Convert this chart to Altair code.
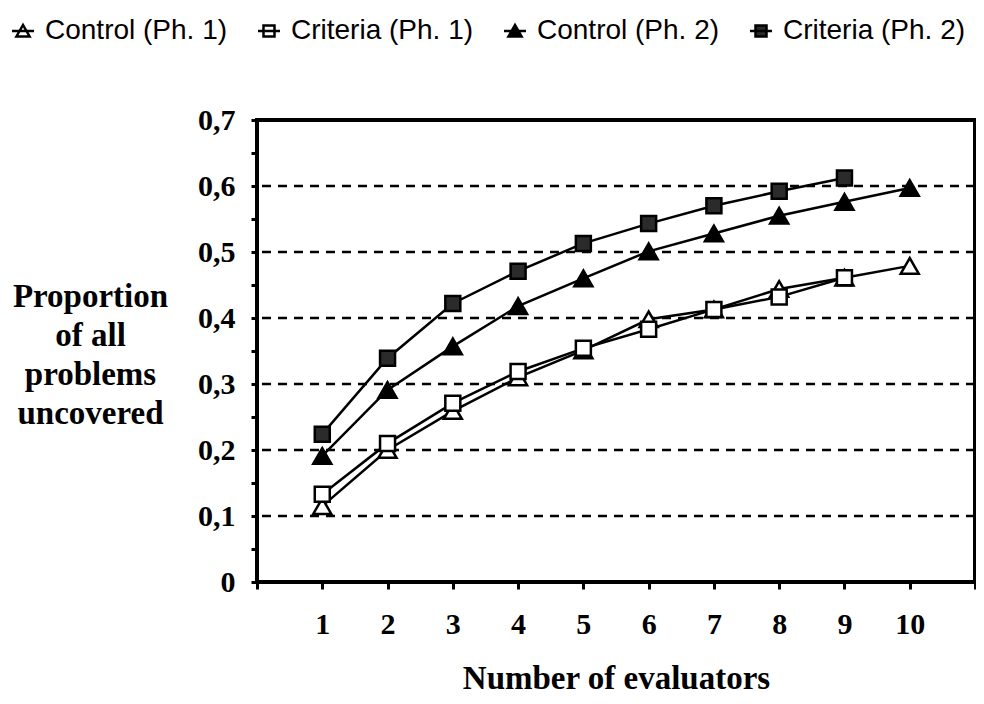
import altair as alt
import pandas as pd

# ---- data ----
evaluators = [1, 2, 3, 4, 5, 6, 7, 8, 9, 10]
control_ph1 = [0.115, 0.200, 0.259, 0.310, 0.351, 0.398, 0.413, 0.444, 0.461, 0.479]
criteria_ph1 = [0.133, 0.210, 0.271, 0.319, 0.354, 0.383, 0.413, 0.432, 0.461]
control_ph2 = [0.191, 0.291, 0.357, 0.418, 0.460, 0.501, 0.528, 0.555, 0.576, 0.597]
criteria_ph2 = [0.224, 0.339, 0.422, 0.471, 0.513, 0.543, 0.570, 0.592, 0.612]
series_names = ["Control (Ph. 1)", "Criteria (Ph. 1)", "Control (Ph. 2)", "Criteria (Ph. 2)"]
grid_values = [0.1, 0.2, 0.3, 0.4, 0.5, 0.6]
x_ticks = [0, 1, 2, 3, 4, 5, 6, 7, 8, 9, 10, 11]
y_ticks = [0, 0.05, 0.1, 0.15, 0.2, 0.25, 0.3, 0.35, 0.4, 0.45, 0.5, 0.55, 0.6, 0.65, 0.7]
y_title = ["Proportion", "of all", "problems", "uncovered"]
x_title = "Number of evaluators"

# ---- styles ----
shapes = ["triangle-up", "square", "triangle-up", "square"]
sizes = [324, 225, 324, 225]
fills = ["white", "white", "black", "#2b2b2b"]
strokes = ["black", "black", "black", "black"]
legend_paths = [
    "M-1,0H1M-0.6,0.5L0,-0.55L0.6,0.5Z",
    "M-1,0H1M-0.5,-0.5H0.5V0.5H-0.5Z",
    "M-1,0H1M-0.6,0.5L0,-0.55L0.6,0.5Z",
    "M-1,0H1M-0.5,-0.5H0.5V0.5H-0.5Z",
]

rows = []
for name, vals in zip(series_names, [control_ph1, criteria_ph1, control_ph2, criteria_ph2]):
    for xv, yv in zip(evaluators, vals):
        rows.append({"series": name, "x": xv, "y": yv})
df = pd.DataFrame(rows)
grid_df = pd.DataFrame({"y": grid_values})

serif = "Liberation Serif"

x_axis = alt.Axis(
    values=x_ticks,
    labelExpr="(datum.value >= 1 && datum.value <= 10) ? datum.label : ''",
    grid=False, domain=False,
    tickSize=7, tickWidth=3, tickColor="black",
    labelFontSize=30, labelPadding=20, labelFlush=False, labelOverlap=False,
    title=x_title, titleFontSize=33, titleBaseline="alphabetic", titleY=106,
)
y_axis = alt.Axis(
    values=y_ticks,
    labelExpr="round(datum.value*100) % 10 == 0 ? (datum.value == 0 ? '0' : replace(format(datum.value, '.1f'), '.', ',')) : ''",
    grid=False, domain=False,
    tickSize=6, tickWidth=3, tickColor="black",
    labelFontSize=30, labelPadding=16, labelOverlap=False,
    title=y_title, titleAngle=0, titleAlign="center", titleBaseline="middle",
    titleX=-167, titleY=176, titleFontSize=33, titleLineHeight=39,
)

X = alt.X("x:Q", scale=alt.Scale(domain=[0, 11], nice=False, zero=False), axis=x_axis)
Y = alt.Y("y:Q", scale=alt.Scale(domain=[0, 0.7], nice=False), axis=y_axis)

grid = alt.Chart(grid_df).mark_rule(color="black", strokeWidth=2.5, strokeDash=[9, 7]).encode(y=Y)

lines = alt.Chart(df).mark_line(color="black", strokeWidth=2.5).encode(x=X, y=Y, detail="series:N")

point_layers = []
for name, shp, sz, fl in zip(series_names, shapes, sizes, fills):
    point_layers.append(
        alt.Chart(df).transform_filter(alt.datum.series == name).mark_point(
            shape=shp, size=sz, filled=True, fill=fl, stroke="black",
            strokeWidth=2.5, opacity=1, fillOpacity=1,
        ).encode(x=X, y=Y)
    )

legend = alt.Legend(
    title=None, orient="none", legendX=-248, legendY=-103,
    direction="horizontal", columns=4, columnPadding=25,
    labelFont="Liberation Sans", labelFontSize=28, labelColor="black", labelLimit=400,
    labelOffset=8, symbolSize=484, symbolStrokeWidth=2.5,
    symbolOpacity=1, padding=0,
)
legend_layer = alt.Chart(df).transform_filter("false").mark_point(
    filled=False, strokeWidth=2.5, opacity=1, size=484
).encode(
    x=X, y=Y,
    shape=alt.Shape("series:N", scale=alt.Scale(domain=series_names, range=legend_paths), legend=legend),
    fill=alt.Fill("series:N", scale=alt.Scale(domain=series_names, range=fills), legend=legend),
    stroke=alt.Stroke("series:N", scale=alt.Scale(domain=series_names, range=strokes), legend=legend),
)

chart = alt.layer(grid, lines, *point_layers, legend_layer).properties(
    width=718, height=462,
    background="white",
    autosize=alt.AutoSizeParams(type="none"),
    padding={"left": 249, "top": 112, "right": 1, "bottom": 114},
).configure_view(
    stroke="black", strokeWidth=4
).configure_axis(
    labelFont=serif, labelFontWeight="bold", labelColor="black",
    titleFont=serif, titleFontWeight="bold", titleColor="black",
)

chart.save("out.html", embed_options={"renderer": "svg", "actions": False})
